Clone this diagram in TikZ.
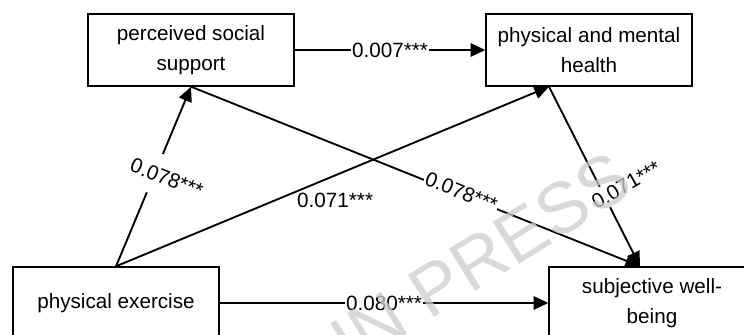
\documentclass[tikz,border=0pt]{standalone}
\usepackage{fontspec}
\setmainfont{Liberation Sans}
\usetikzlibrary{arrows.meta,calc}
\definecolor{wmgray}{HTML}{CCCCCC}
\begin{document}
\begin{tikzpicture}[x=0.75pt,y=-0.75pt,
  box/.style={draw,line width=1pt,minimum width=154.5pt,minimum height=54pt,
    align=center,inner sep=0pt,font=\fontsize{15.5}{22.5}\selectfont},
  link/.style={line width=1.4pt,-{Triangle[length=11pt,width=10pt]}},
  coef/.style={font=\fontsize{15.5}{18}\selectfont,inner sep=1pt},
  mask/.style={fill=white}
]
\useasboundingbox (0,0) rectangle (744,335);
\clip (0,0) rectangle (744,335);

% variables
\node[box] (pss) at (191,50)  {perceived social\\support};
\node[box] (pmh) at (589,50)  {physical and mental\\health};
\node[box] (pe)  at (116,303) {physical exercise};
\node[box] (swb) at (652,303) {subjective well-\\being};

\coordinate (pmhfoot) at ($(pmh.south)+(-40,0)$);
\coordinate (swbtop)  at ($(swb.north)+(-12,0)$);

% paths with coefficients
\draw[link] (pss) -- node[coef,mask]{0.007***} (pmh);
\draw[link] (pe) -- node[coef,mask]{0.080***} (swb);
\draw[link] (pe.north) -- node[coef,mask,pos=0.5,xshift=10pt,yshift=-1pt,
  rotate=-21,inner ysep=10pt]{0.078***} (pss.south);
\draw[link] (pe.north) -- node[coef,pos=0.5,xshift=2pt,yshift=-17.6pt]{0.071***} (pmhfoot);
\draw[link] (pss.south) -- node[coef,mask,sloped,pos=0.6,yshift=2pt]{0.078***} (swbtop);
\draw[link] (pmhfoot) -- node[coef,mask,pos=0.605,xshift=16.5pt,yshift=7.9pt,
  rotate=30,inner ysep=3pt]{0.071***} (swbtop);

% watermark
\node[text=wmgray,opacity=0.75,font=\fontsize{54}{60}\selectfont,rotate=32]
  (wm) at (481,259) {IN PRESS};
\end{tikzpicture}
\end{document}
